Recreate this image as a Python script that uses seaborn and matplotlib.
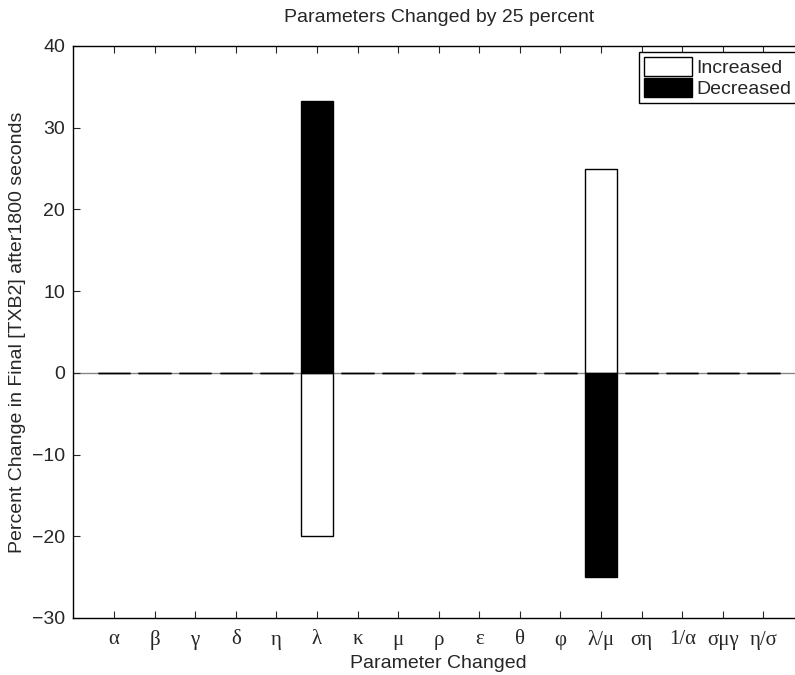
import pandas as pd
import matplotlib
matplotlib.use('Agg')
import matplotlib.pyplot as plt
import seaborn as sns
from matplotlib.patches import Patch

# parameter names (tick labels)
params = ['α', 'β', 'γ', 'δ', 'η', 'λ', 'κ', 'μ', 'ρ', 'ε', 'θ', 'φ',
          'λ/μ', 'ση', '1/α', 'σμγ', 'η/σ']
# percent change when the parameter is increased / decreased by 25%
increased = [0, 0, 0, 0, 0, -20, 0, 0, 0, 0, 0, 0, 25, 0, 0, 0, 0]
decreased = [0, 0, 0, 0, 0, 33.33, 0, 0, 0, 0, 0, 0, -25, 0, 0, 0, 0]

df = pd.DataFrame({
    'param': params * 2,
    'change': increased + decreased,
    'dir': ['Increased'] * len(params) + ['Decreased'] * len(params),
})

sns.set_style('ticks')
plt.rcParams['font.family'] = ['Liberation Sans', 'DejaVu Sans']

fig = plt.figure(figsize=(7.95, 6.75), dpi=100)
# axes runs a bit past the right edge, like the cropped original
ax = fig.add_axes([73.4 / 795, 57 / 675, (804 - 73.4) / 795, (618 - 46) / 675])

ax.axhline(0, color='#888888', lw=1, zorder=0)
sns.barplot(data=df, x='param', y='change', hue='dir', dodge=False,
            palette={'Increased': 'white', 'Decreased': 'black'},
            edgecolor='black', linewidth=1, width=0.8, ax=ax, zorder=2)

ax.set_xlim(-1, 17)
ax.set_ylim(-30, 40)
ax.set_yticks(range(-30, 41, 10))
ax.set_yticklabels(['−30', '−20', '−10', '0', '10', '20', '30', '40'], fontsize=14)
ax.set_xticks(range(len(params)))
ax.set_xticklabels(params, family=['Liberation Serif', 'DejaVu Serif'], fontsize=15)
ax.tick_params(direction='in', top=True, right=True, length=5, width=0.8, pad=6)
ax.tick_params(axis='x', pad=9)
for s in ax.spines.values():
    s.set_linewidth(1)
    s.set_color('black')

ax.set_title('Parameters Changed by 25 percent', fontsize=14, pad=17)
ax.set_xlabel('Parameter Changed', fontsize=14, labelpad=3)
ax.set_ylabel('Percent Change in Final [TXB2] after1800 seconds', fontsize=14, labelpad=4)

handles = [Patch(facecolor='white', edgecolor='black', label='Increased'),
           Patch(facecolor='black', edgecolor='black', label='Decreased')]
ax.legend(handles=handles, loc='upper right', bbox_to_anchor=(0.9890, 0.989),
          fontsize=14, frameon=True, fancybox=False, edgecolor='black',
          framealpha=1, handlelength=2.5, handleheight=1.1, handletextpad=0.2,
          borderpad=0.25, labelspacing=0.05, borderaxespad=0)

fig.savefig('out.png', dpi=100)
